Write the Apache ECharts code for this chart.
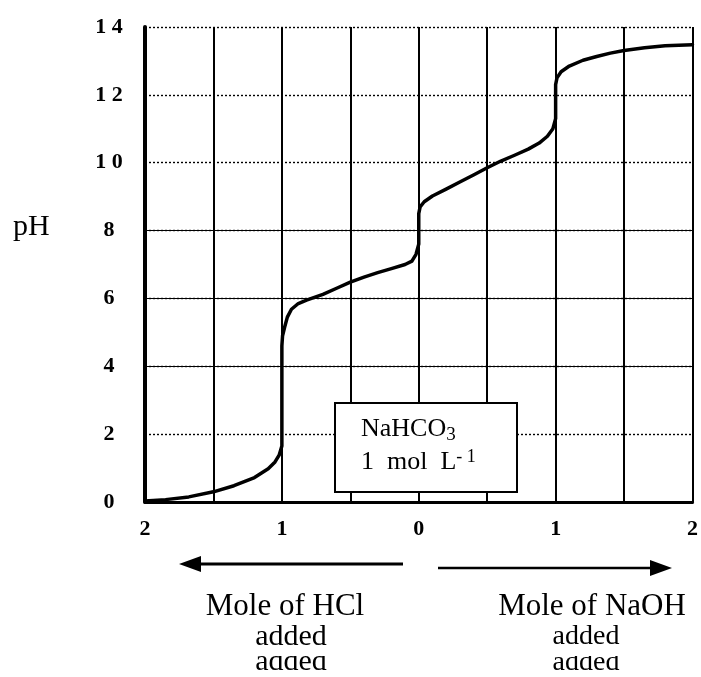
<!DOCTYPE html>
<html>
<head>
<meta charset="utf-8">
<script src="https://cdn.jsdelivr.net/npm/echarts@6/dist/echarts.min.js"></script>
<style>
html,body{margin:0;padding:0;background:#fff;}
#chart{width:701px;height:677px;}
</style>
</head>
<body>
<div id="chart"></div>
<script>
// x: moles of acid (negative, HCl) / base (positive, NaOH) added
const molesAdded = [-2, -1.85, -1.68, -1.5, -1.35, -1.2, -1.1, -1.05, -1.02, -1.0, -1.0, -0.995, -0.98, -0.96, -0.93, -0.88, -0.82, -0.7, -0.6, -0.5, -0.4, -0.3, -0.2, -0.1, -0.05, -0.02, 0, 0, 0.01, 0.04, 0.1, 0.2, 0.3, 0.4, 0.5, 0.6, 0.7, 0.8, 0.88, 0.94, 0.98, 1.0, 1.0, 1.01, 1.04, 1.1, 1.2, 1.3, 1.4, 1.5, 1.65, 1.8, 2.0];
const pHValues   = [0.03, 0.07, 0.15, 0.3, 0.48, 0.72, 0.98, 1.18, 1.38, 1.65, 4.6, 4.9, 5.15, 5.45, 5.68, 5.85, 5.95, 6.12, 6.3, 6.48, 6.63, 6.76, 6.88, 7.0, 7.1, 7.3, 7.6, 8.5, 8.7, 8.85, 9.02, 9.22, 9.43, 9.64, 9.85, 10.05, 10.22, 10.4, 10.58, 10.78, 11.0, 11.3, 12.3, 12.5, 12.68, 12.85, 13.02, 13.13, 13.23, 13.31, 13.39, 13.45, 13.48];
const xTickLabels = {'-2':'2', '-1':'1', '0':'0', '1':'1', '2':'2'};
const yTickLabels = {0:'0', 2:'2', 4:'4', 6:'6', 8:'8', 10:'1 0', 12:'1 2', 14:'1 4'};
const solidGridPH = [4, 6, 8];

const seriesData = molesAdded.map((x, i) => [x, pHValues[i]]);
const serif = '"Liberation Serif", "DejaVu Serif", serif';

const chart = echarts.init(document.getElementById('chart'));
chart.setOption({
  backgroundColor: '#fff',
  animation: false,
  grid: {left: 145, right: 2, top: 27, bottom: 175},
  xAxis: {
    type: 'value', min: -2, max: 2, interval: 0.5,
    axisLine: {show: true, onZero: false, lineStyle: {color: '#000', width: 3}},
    axisTick: {show: false},
    splitLine: {show: true, lineStyle: {color: '#000', width: 2}},
    axisLabel: {
      color: '#000', fontFamily: serif, fontWeight: 'bold', fontSize: 22, margin: 16,
      showMaxLabel: true, showMinLabel: true,
      formatter: v => (xTickLabels[String(v)] !== undefined ? xTickLabels[String(v)] : '')
    }
  },
  yAxis: {
    type: 'value', min: 0, max: 14, interval: 2,
    axisLine: {show: true, onZero: false, lineStyle: {color: '#000', width: 4}},
    axisTick: {show: false},
    splitLine: {show: true, lineStyle: {color: '#000', width: 1.4, type: [2, 2]}},
    axisLabel: {
      color: '#000', fontFamily: serif, fontWeight: 'bold', fontSize: 22, margin: 36, align: 'center',
      formatter: v => yTickLabels[v]
    }
  },
  series: [{
    type: 'line',
    data: seriesData,
    showSymbol: false,
    smooth: false,
    lineStyle: {color: '#000', width: 3.5, join: 'round', cap: 'round'},
    markLine: {
      silent: true, symbol: 'none', label: {show: false},
      lineStyle: {color: '#000', width: 1.2, type: 'solid'},
      data: solidGridPH.map(v => ({yAxis: v}))
    },
    z: 5
  }],
  graphic: [
    {type: 'text', left: 13, top: 212, style: {text: 'pH', font: '30px ' + serif, fill: '#000'}},
    // concentration box
    {type: 'rect', shape: {x: 335, y: 403, width: 182, height: 89}, style: {fill: '#fff', stroke: '#000', lineWidth: 2}, z: 10},
    {type: 'text', x: 361, y: 413, z: 11, style: {
      text: '{m|NaHCO}{s|3}\n{m|1  mol  L}{p|- 1}',
      rich: {
        m: {font: '26px ' + serif, fill: '#000', lineHeight: 33},
        s: {font: '19px ' + serif, fill: '#000', padding: [12, 0, 0, 0], lineHeight: 33},
        p: {font: '18px ' + serif, fill: '#000', padding: [0, 0, 10, 0], lineHeight: 33}
      }
    }},
    // arrows
    {type: 'line', shape: {x1: 403, y1: 564, x2: 195, y2: 564}, style: {stroke: '#000', lineWidth: 3}},
    {type: 'polygon', shape: {points: [[179, 564], [201, 556], [201, 572]]}, style: {fill: '#000'}},
    {type: 'line', shape: {x1: 438, y1: 568, x2: 655, y2: 568}, style: {stroke: '#000', lineWidth: 2.5}},
    {type: 'polygon', shape: {points: [[672, 568], [650, 560], [650, 576]]}, style: {fill: '#000'}},
    // axis captions
    {type: 'text', x: 285, y: 607, style: {text: 'Mole of HCl', font: '31px ' + serif, fill: '#000', align: 'center', verticalAlign: 'middle'}},
    {type: 'text', x: 291, y: 637, style: {text: 'added', font: '30px ' + serif, fill: '#000', align: 'center', verticalAlign: 'middle'}},
    {type: 'text', x: 592, y: 607, style: {text: 'Mole of NaOH', font: '31px ' + serif, fill: '#000', align: 'center', verticalAlign: 'middle'}},
    {type: 'text', x: 586, y: 637, style: {text: 'added', font: '28px ' + serif, fill: '#000', align: 'center', verticalAlign: 'middle'}},
    // clipped duplicate caption lines (scan artifact)
    {type: 'text', x: 291, y: 662, style: {text: 'added', font: '30px ' + serif, fill: '#000', align: 'center', verticalAlign: 'middle'}},
    {type: 'text', x: 586, y: 663, style: {text: 'added', font: '28px ' + serif, fill: '#000', align: 'center', verticalAlign: 'middle'}},
    {type: 'rect', shape: {x: 240, y: 649, width: 100, height: 7}, style: {fill: '#fff'}, z: 20},
    {type: 'rect', shape: {x: 540, y: 649, width: 95, height: 7}, style: {fill: '#fff'}, z: 20}
  ]
});
</script>
</body>
</html>
